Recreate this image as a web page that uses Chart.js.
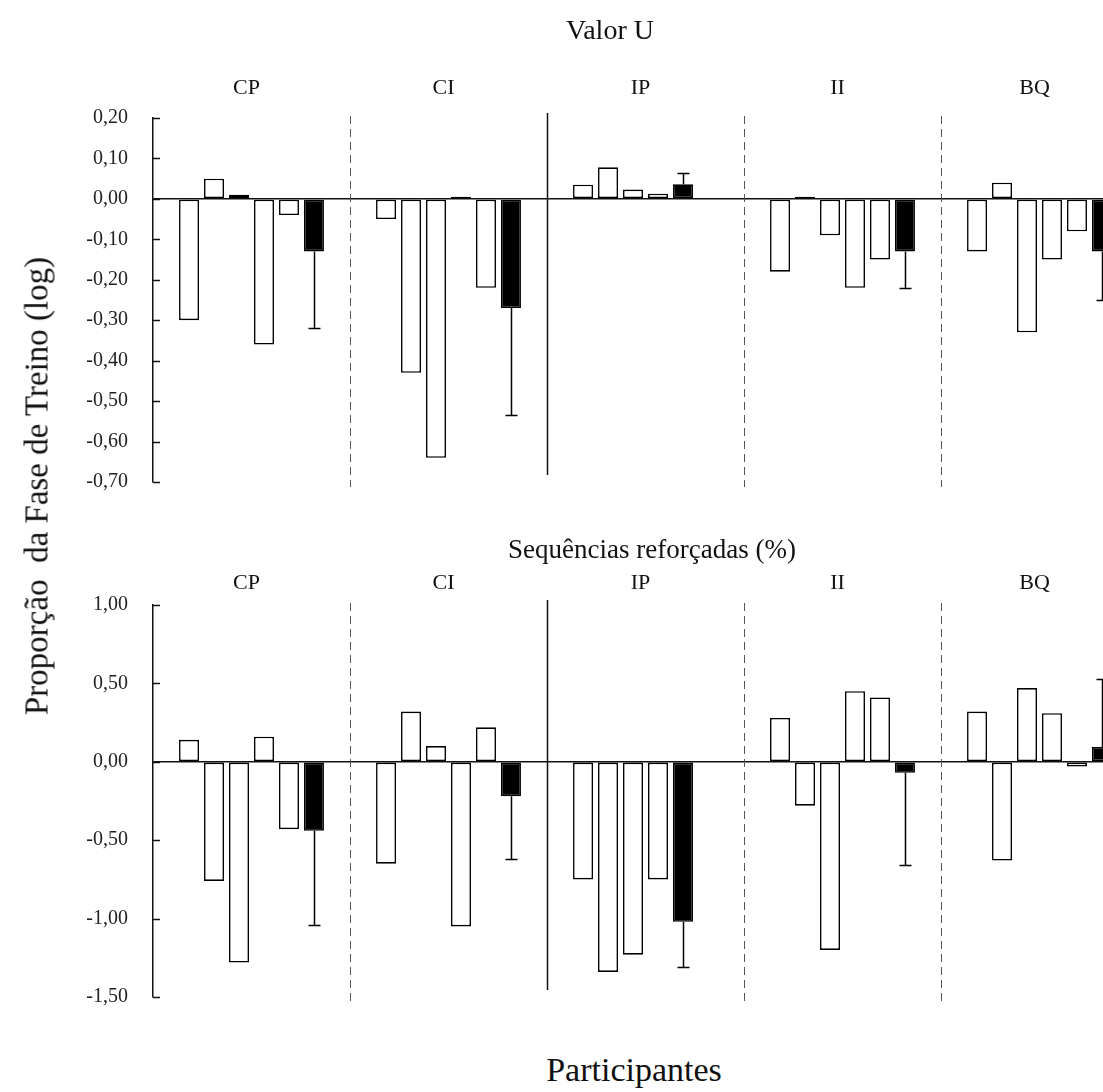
<!DOCTYPE html>
<html lang="pt">
<head>
<meta charset="utf-8">
<title>Valor U e Sequências reforçadas</title>
<script src="https://cdn.jsdelivr.net/npm/chart.js@4.4.1/dist/chart.umd.min.js"></script>
<style>
  html, body { margin: 0; padding: 0; background: #fff; overflow: hidden; }
  body { width: 1103px; height: 1092px; position: relative; font-family: "Liberation Serif", "Times New Roman", serif; color: #111; }
  .box { position: absolute; left: 0; width: 1140px; }
  .txt { position: absolute; white-space: pre; transform: translate(-50%, -50%); line-height: 1; }
</style>
</head>
<body>
<div class="box" style="top:0; height:519px;"><canvas id="chartU" width="1140" height="519"></canvas></div>
<div class="box" style="top:520px; height:514px;"><canvas id="chartSeq" width="1140" height="514"></canvas></div>

<div class="txt" style="left:610px; top:30px; font-size:28px;">Valor U</div>
<div class="txt" style="left:652px; top:549px; font-size:27px;">Sequências reforçadas (%)</div>
<div class="txt" style="left:634px; top:1070px; font-size:34px;">Participantes</div>
<div class="txt" style="left:37px; top:486px; font-size:33px; transform: translate(-50%, -50%) rotate(-90deg);">Proporção  da Fase de Treino (log)</div>

<script>
// Condições
const groups = ['CP', 'CI', 'IP', 'II', 'BQ'];

// Valor U - participantes de cada condição (IP tem só 4)
const uCP = [-0.30, 0.05, 0.01, -0.36, -0.04];
const uCI = [-0.05, -0.43, -0.64, 0.005, -0.22];
const uIP = [0.035, 0.078, 0.023, 0.013];
const uII = [-0.18, 0.005, -0.09, -0.22, -0.15];
const uBQ = [-0.13, 0.04, -0.33, -0.15, -0.08];
const uMean = [-0.13, -0.27, 0.036, -0.13, -0.13];
const uSD = [0.19, 0.265, 0.028, 0.09, 0.12];
const uTicks = [0.2, -0.7, 0.1];   // max, min, passo

// Sequências reforçadas (%)
const sCP = [0.14, -0.76, -1.28, 0.16, -0.43];
const sCI = [-0.65, 0.32, 0.10, -1.05, 0.22];
const sIP = [-0.75, -1.34, -1.23, -0.75];
const sII = [0.28, -0.28, -1.20, 0.45, 0.41];
const sBQ = [0.32, -0.63, 0.47, 0.31, -0.03];
const sMean = [-0.44, -0.22, -1.02, -0.07, 0.095];
const sSD = [0.60, 0.40, 0.29, 0.59, 0.43];
const sTicks = [1.0, -1.5, 0.5];

const FONT = '"Liberation Serif", "Times New Roman", serif';

// one dataset per bar slot; the mean (black) goes right after the last participant
function buildDatasets(rows, means) {
    const sets = [];
    for (let k = 0; k < 6; k++) {
        const data = [];
        const fill = [];
        rows.forEach((row, g) => {
            if (k < row.length) { data.push(row[k]); fill.push('#ffffff'); }
            else if (k === row.length) { data.push(means[g]); fill.push('#000000'); }
            else { data.push(null); fill.push('#ffffff'); }
        });
        sets.push({
            label: 'P' + (k + 1),
            data: data,
            backgroundColor: fill,
            borderColor: '#000',
            borderWidth: 1.6,
            borderSkipped: false,
            categoryPercentage: 0.761,
            barPercentage: 0.8
        });
    }
    return sets;
}

// dashed / solid separators between conditions
const separators = {
    id: 'separators',
    afterDatasetsDraw(chart) {
        const x = chart.scales.x, area = chart.chartArea, ctx = chart.ctx;
        ctx.save();
        for (let i = 1; i < groups.length; i++) {
            const px = Math.round((x.getPixelForValue(i - 1) + x.getPixelForValue(i)) / 2) + 0.5;
            ctx.beginPath();
            if (i === 2) {
                ctx.setLineDash([]);
                ctx.strokeStyle = '#111';
                ctx.lineWidth = 1.5;
                ctx.moveTo(px, area.top - 5);
                ctx.lineTo(px, area.bottom - 7);
            } else {
                ctx.setLineDash([8, 5]);
                ctx.strokeStyle = '#555';
                ctx.lineWidth = 1;
                ctx.moveTo(px, area.top - 2);
                ctx.lineTo(px, area.bottom + 5);
            }
            ctx.stroke();
        }
        ctx.restore();
    }
};

// inward tick marks on the y axis
const innerTicks = {
    id: 'innerTicks',
    afterDraw(chart) {
        const y = chart.scales.y, ctx = chart.ctx, left = chart.chartArea.left;
        ctx.save();
        ctx.strokeStyle = '#111';
        ctx.lineWidth = 1.5;
        y.ticks.forEach(t => {
            const py = Math.round(y.getPixelForValue(t.value)) + 0.5;
            ctx.beginPath();
            ctx.moveTo(left, py);
            ctx.lineTo(left + 7, py);
            ctx.stroke();
        });
        ctx.restore();
    }
};

// one-sided error bars on the mean bars
function errorBars(rows, means, sds) {
    return {
        id: 'errorBars',
        afterDatasetsDraw(chart) {
            const y = chart.scales.y, ctx = chart.ctx;
            ctx.save();
            ctx.strokeStyle = '#000';
            ctx.lineWidth = 1.5;
            rows.forEach((row, g) => {
                const bar = chart.getDatasetMeta(row.length).data[g];
                const m = means[g];
                const end = m >= 0 ? m + sds[g] : m - sds[g];
                const px = Math.round(bar.x) + 0.5;
                const y0 = y.getPixelForValue(m);
                const y1 = Math.round(y.getPixelForValue(end)) + 0.5;
                ctx.beginPath();
                ctx.moveTo(px, y0);
                ctx.lineTo(px, y1);
                ctx.moveTo(px - 6, y1);
                ctx.lineTo(px + 6, y1);
                ctx.stroke();
            });
            ctx.restore();
        }
    };
}

function makeChart(id, rows, means, sds, ticks, pad, labelPad) {
    const ctx = document.getElementById(id).getContext('2d');
    return new Chart(ctx, {
        type: 'bar',
        data: { labels: groups, datasets: buildDatasets(rows, means) },
        options: {
            responsive: false,
            animation: false,
            layout: { padding: pad },
            plugins: { legend: { display: false }, tooltip: { enabled: false } },
            scales: {
                x: {
                    position: 'top',
                    grid: { display: false, drawTicks: false },
                    border: { display: false },
                    ticks: {
                        color: '#111',
                        padding: labelPad,
                        labelOffset: -5,
                        font: { family: FONT, size: 22 }
                    },
                    afterFit(scale) { scale.height = 40; }
                },
                y: {
                    max: ticks[0],
                    min: ticks[1],
                    grid: {
                        drawTicks: false,
                        lineWidth: 1.5,
                        color: c => Math.abs(c.tick.value) < 1e-9 ? '#111' : 'rgba(0,0,0,0)'
                    },
                    border: { display: true, color: '#111', width: 1.5 },
                    ticks: {
                        stepSize: ticks[2],
                        padding: 25,
                        color: '#222',
                        font: { family: FONT, size: 20 },
                        callback: v => (Math.abs(v) < 1e-9 ? 0 : v).toFixed(2).replace('.', ',')
                    },
                    afterFit(scale) { scale.width = 153; }
                }
            }
        },
        plugins: [separators, innerTicks, errorBars(rows, means, sds)]
    });
}

makeChart('chartU', [uCP, uCI, uIP, uII, uBQ], uMean, uSD, uTicks,
    { top: 78, bottom: 18, left: 0, right: 2 }, 17);
makeChart('chartSeq', [sCP, sCI, sIP, sII, sBQ], sMean, sSD, sTicks,
    { top: 45, bottom: 13, left: 0, right: 2 }, 9);
</script>
</body>
</html>
